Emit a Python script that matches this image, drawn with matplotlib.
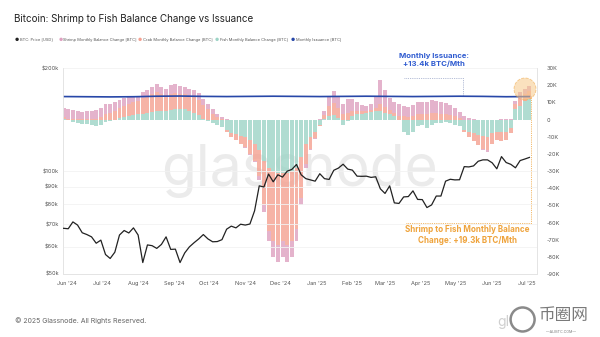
import numpy as np
import pandas as pd
import matplotlib
matplotlib.use("Agg")
import matplotlib.pyplot as plt
import matplotlib.dates as mdates
from matplotlib.patches import Ellipse

plt.rcParams['font.family'] = ['Inter', 'DejaVu Sans']

# datos cada 4 dias, 29 may 2024 -> 3 jul 2025
dates = pd.date_range("2024-05-29", periods=101, freq="4D")

# precio BTC (miles de USD)
price = [68.0, 67.8, 71.0, 69.5, 66.0, 65.2, 64.2, 61.5, 62.8, 57.0,
         55.5, 57.9, 65.0, 67.0, 65.9, 68.2, 65.0, 54.0, 60.8, 60.5,
         59.4, 61.0, 64.2, 59.0, 59.1, 54.0, 57.6, 60.0, 61.7, 63.3,
         65.2, 63.3, 62.1, 62.2, 63.0, 67.6, 69.0, 68.2, 69.9, 69.5,
         70.0, 76.5, 90.5, 89.8, 98.0, 93.0, 97.5, 96.0, 99.9, 101.1,
         104.5, 97.5, 95.0, 94.2, 93.4, 98.2, 95.0, 94.5, 100.5, 102.0,
         104.7, 101.3, 100.6, 96.6, 96.5, 96.6, 95.8, 96.2, 88.7, 86.0,
         90.5, 80.7, 80.4, 84.0, 84.2, 87.5, 82.6, 82.5, 78.2, 79.6,
         84.5, 84.5, 93.4, 94.6, 94.2, 94.3, 103.0, 102.8, 103.5, 106.8,
         107.8, 107.8, 105.7, 101.5, 110.2, 105.9, 104.6, 102.2, 107.3, 108.4,
         109.6]

# cambio mensual de balance (miles de BTC)
fish = [0.2, -0.5, -1.5, -2.0, -2.5, -2.5, -3.0, -3.5, -3.0, -1.5,
        -1.0, 0.0, 1.0, 1.5, 2.0, 2.5, 3.0, 3.5, 4.0, 4.5,
        5.0, 5.0, 5.0, 5.5, 6.0, 6.0, 6.0, 5.0, 4.0, 2.5,
        0.5, -1.0, -2.0, -3.0, -4.5, -6.0, -8.0, -8.5, -9.5, -10.0,
        -12.0, -14.0, -18.0, -24.0, -28.0, -30.0, -31.0, -31.0, -31.0, -30.0,
        -28.0, -22.0, -14.0, -10.0, -7.0, -3.0, 0.5, 2.0, 2.5, 1.0,
        -3.0, -1.0, 2.0, 3.0, 3.5, 4.0, 4.5, 5.0, 5.0, 4.0,
        3.0, 2.0, 0.0, -7.0, -9.0, -7.0, -4.0, -3.0, -5.0, -3.0,
        -2.0, -2.0, -1.5, -2.0, -3.0, -4.0, -6.0, -7.0, -8.0, -9.0,
        -9.5, -10.0, -8.0, -7.0, -7.0, -7.0, -5.0, 6.0, 8.0, 11.0,
        12.0]
crab = [1.0, 0.5, 0.3, 0.2, 0.3, 0.5, 0.5, 0.5, 1.5, 3.0,
        4.0, 5.0, 6.0, 6.5, 7.0, 7.5, 8.0, 9.0, 10.0, 10.5,
        11.0, 10.0, 9.5, 9.5, 9.5, 9.0, 9.0, 9.0, 9.0, 9.0,
        8.0, 6.0, 3.5, 1.5, 0.5, -1.0, -2.0, -3.5, -5.0, -6.0,
        -8.0, -10.0, -15.0, -26.0, -37.0, -41.0, -42.0, -40.0, -42.0, -41.0,
        -36.0, -24.0, -12.0, -7.0, -4.0, -1.0, 2.0, 6.0, 7.0, 6.0,
        3.0, 4.0, 3.0, 2.0, 1.5, 1.0, 1.0, 2.0, 4.0, 3.5,
        2.5, 2.0, 2.0, 2.0, 1.5, 2.0, 3.0, 3.5, 3.0, 4.0,
        4.0, 3.5, 3.0, 2.5, 2.0, 1.0, -1.0, -3.0, -4.5, -6.0,
        -7.5, -8.0, -6.0, -5.0, -5.5, -5.0, -3.0, 3.0, 4.0, 4.0,
        4.5]
shrimp = [5.5, 5.5, 5.0, 4.5, 4.3, 4.5, 4.5, 5.0, 5.5, 6.0,
          5.0, 5.0, 4.5, 4.5, 4.0, 4.0, 3.0, 3.5, 3.0, 4.0,
          4.5, 4.0, 3.5, 5.0, 5.0, 4.5, 4.0, 4.0, 4.5, 4.0,
          3.5, 3.0, 2.5, 1.5, 1.0, 0.5, 0.0, 0.0, 0.0, -0.5,
          -0.5, -1.0, -2.0, -4.0, -6.0, -9.0, -10.0, -9.0, -10.0, -9.0,
          -7.0, -4.0, -2.0, -1.0, -0.5, 0.5, 2.5, 5.0, 7.0, 6.0,
          6.0, 8.0, 7.0, 5.0, 3.5, 3.0, 3.5, 6.0, 14.0, 10.0,
          7.0, 6.0, 7.0, 6.0, 6.0, 6.5, 7.0, 7.0, 7.0, 7.5,
          7.0, 7.0, 6.5, 6.0, 5.0, 3.5, 2.0, 1.0, 0.5, 0.0,
          -0.5, -1.0, -0.5, 0.0, 0.5, 0.5, 0.5, 2.0, 4.0, 3.0,
          2.8]

# emision mensual (miles de BTC), cada 20 dias
iss_dates = pd.date_range("2024-05-29", periods=21, freq="20D")
issuance = [13.4, 13.3, 13.2, 13.3, 13.6, 13.7, 13.5, 13.4, 13.5, 13.6,
            13.5, 13.4, 13.5, 13.6, 13.5, 13.4, 13.5, 13.6, 13.5, 13.3,
            13.4]

price_ticks = [50, 60, 70, 80, 90, 100, 200]
bal_ticks = list(range(-90, 31, 10))

c_shrimp = '#dea0c0'
c_crab = '#f4a090'
c_fish = '#9dd4c6'
c_price = '#222222'
c_iss = '#2747a8'
c_orange = '#efa33b'

fig = plt.figure(figsize=(6, 3.37), dpi=100)
ax = fig.add_axes([0.105, 0.187, 0.79, 0.611])
axp = ax.twinx()

# marca de agua
ax.text(0.5, 0.5, 'glassnode', transform=ax.transAxes, ha='center', va='center',
        fontsize=41, color='#ebebeb', zorder=0)

# barras apiladas (positivas y negativas por separado)
pos_b = np.zeros(len(dates))
neg_b = np.zeros(len(dates))
for vals, col in [(fish, c_fish), (crab, c_crab), (shrimp, c_shrimp)]:
    v = np.array(vals)
    p = np.clip(v, 0, None)
    n = np.clip(v, None, 0)
    ax.bar(dates, p, bottom=pos_b, width=3.4, color=col, alpha=0.8, lw=0, zorder=2)
    ax.bar(dates, n, bottom=neg_b, width=3.4, color=col, alpha=0.8, lw=0, zorder=2)
    pos_b += p
    neg_b += n

ax.plot(iss_dates, issuance, color=c_iss, lw=1.2, zorder=4)

ax.set_ylim(-90, 30)
ax.set_yticks(bal_ticks)
ax.set_yticklabels([('%dK' % t) if t != 0 else '0' for t in bal_ticks])
ax.set_xlim(pd.Timestamp("2024-05-28 12:00"), pd.Timestamp("2025-07-09 12:00"))
ax.xaxis.set_major_locator(mdates.MonthLocator())
ax.xaxis.set_major_formatter(mdates.DateFormatter("%b '%y"))

# precio en eje logaritmico a la izquierda
axp.plot(dates, price, color=c_price, lw=0.9, zorder=5)
axp.set_yscale('log')
axp.set_ylim(50, 200)
axp.set_yticks(price_ticks)
axp.set_yticklabels(['$%dk' % t for t in price_ticks])
axp.yaxis.set_minor_locator(plt.NullLocator())
axp.grid(axis='y', color='#f2f2f2', lw=0.6)

# ejes: balance a la derecha, precio a la izquierda
ax.yaxis.tick_right()
axp.yaxis.tick_left()

for a in (ax, axp):
    a.tick_params(length=0, labelsize=4, labelcolor='#555555', pad=3)
    a.spines['top'].set_visible(False)
    for s in ['left', 'right', 'bottom']:
        a.spines[s].set_color('#e4e4e4')
        a.spines[s].set_linewidth(0.6)
ax.tick_params(axis='x', pad=5)
ax.tick_params(axis='y', pad=7)

# anotaciones
ax.plot([pd.Timestamp("2025-03-17"), pd.Timestamp("2025-05-07"), pd.Timestamp("2025-05-07")],
        [24.5, 24.5, 14.0], color='#9aa6c8', lw=0.6, ls=(0, (1, 1.2)), zorder=3)
ax.text(pd.Timestamp("2025-04-12"), 34.5, 'Monthly Issuance:\n+13.4k BTC/Mth', ha='center', va='center',
        fontsize=5.6, fontweight='bold', color='#2f5bd0', linespacing=1.25, clip_on=False)

ax.plot([pd.Timestamp("2025-03-19"), pd.Timestamp("2025-07-04"), pd.Timestamp("2025-07-04")],
        [-60.5, -60.5, 14.0], color=c_orange, lw=0.6, ls=(0, (1, 1.2)), zorder=3)
ax.text(pd.Timestamp("2025-05-11"), -67.5, 'Shrimp to Fish Monthly Balance\nChange: +19.3k BTC/Mth',
        ha='center', va='center', fontsize=5.8, fontweight='bold', color=c_orange, linespacing=1.25)
circ = Ellipse((525 / 600, 1 - 89 / 337), 22 / 600, 22 / 337, transform=fig.transFigure,
               facecolor='#f6c98a', alpha=0.55, edgecolor=c_orange, ls='--', lw=0.6)
fig.patches.append(circ)

# titulo y leyenda
fig.text(0.023, 0.943, 'Bitcoin: Shrimp to Fish Balance Change vs Issuance', fontsize=7.1,
         color='#222222', va='center')
leg = [('BTC: Price [USD]', c_price, 0.025),
       ('Shrimp Monthly Balance Change [BTC]', c_shrimp, 0.097),
       ('Crab Monthly Balance Change [BTC]', c_crab, 0.230),
       ('Fish Monthly Balance Change [BTC]', c_fish, 0.358),
       ('Monthly Issuance [BTC]', c_iss, 0.485)]
for lab, col, xx in leg:
    fig.text(xx, 0.882, '\u25cf', color=col, fontsize=3.3, va='center')
    fig.text(xx + 0.008, 0.882, lab, color='#555555', fontsize=2.9, va='center')

fig.text(0.025, 0.05, '\u00a9 2025 Glassnode. All Rights Reserved.', fontsize=5,
         color='#666666', va='center')
fig.text(0.828, 0.045, 'gl', fontsize=10, color='#d0d0d0', va='center')
fig.text(0.898, 0.065, '币圈网', fontsize=12, color='#7a7a7a', va='center',
         family=['Noto Sans CJK SC', 'DejaVu Sans'])
fig.text(0.91, 0.015, '—ALIBTC.COM—', fontsize=2.6, color='#7a7a7a', va='center')
logo = Ellipse((0.871, 0.052), 24 / 600, 24 / 337, transform=fig.transFigure, facecolor='white',
               edgecolor='#8a8a8a', lw=1.8)
fig.patches.append(logo)

fig.savefig('out.png', dpi=100)
